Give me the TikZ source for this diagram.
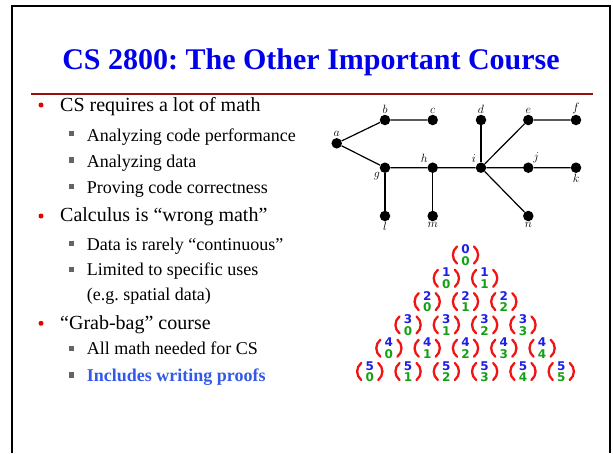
\documentclass[tikz,border=0pt]{standalone}
\usepackage{fontspec}
\setmainfont{Liberation Serif}
\newfontfamily\digitfont{DejaVu Sans}
\frenchspacing

\definecolor{titleblue}{RGB}{0,0,235}
\definecolor{rulered}{RGB}{150,15,15}
\definecolor{proofblue}{RGB}{50,90,230}
\definecolor{bulletred}{RGB}{230,0,0}
\definecolor{squaregrey}{RGB}{100,100,100}
\definecolor{topblue}{RGB}{30,30,230}
\definecolor{botgreen}{RGB}{20,160,20}
\definecolor{parenred}{RGB}{240,20,20}

\tikzset{
  vertex/.style={circle, fill=black, inner sep=0pt, minimum size=10.5pt},
  edge/.style={line width=1.2pt},
  lbl/.style={font=\fontsize{12.5}{12.5}\selectfont, inner sep=1pt, label distance=0pt},
  item/.style={anchor=base west, inner sep=0pt, font=\fontsize{20}{20}\selectfont},
  subitem/.style={anchor=base west, inner sep=0pt, font=\fontsize{18}{18}\selectfont},
  reddot/.style={circle, fill=bulletred, inner sep=0pt, minimum size=5pt},
  greysq/.style={fill=squaregrey, inner sep=0pt, minimum size=5.5pt},
  binom/.style={align=center, inner sep=0pt,
    font=\digitfont\bfseries\fontsize{12}{11.5}\selectfont},
  paren/.style={parenred, line width=2.3pt, line cap=round}
}

\begin{document}
\begin{tikzpicture}[x=1pt, y=-1pt]
  \useasboundingbox (0,0) rectangle (613,453);

  % frame and heading
  \draw[line width=2.5pt] (12,453) -- (12,6) -- (610,6) -- (610,453);
  \node[anchor=base, inner sep=0pt, text=titleblue,
        font=\bfseries\fontsize{30}{30}\selectfont] (title) at (311,69)
        {CS 2800: The Other Important Course};
  \draw[rulered, line width=1.5pt] (31,94) -- (593,94);

  % bullet list
  \node[reddot] (b1) at (41,105) {};
  \node[item] (t1) at (60,111.7) {CS requires a lot of math};
  \node[greysq] (s1) at (71.7,133.3) {};
  \node[subitem] (u1) at (86.7,141.7) {Analyzing code performance};
  \node[greysq] (s2) at (71.7,160) {};
  \node[subitem] (u2) at (86.7,167.3) {Analyzing data};
  \node[greysq] (s3) at (71.7,186.7) {};
  \node[subitem] (u3) at (86.7,193.3) {Proving code correctness};

  \node[reddot] (b2) at (41,216) {};
  \node[item] (t2) at (60,221.7) {Calculus is “wrong math”};
  \node[greysq] (s4) at (71.7,243.3) {};
  \node[subitem] (u4) at (86.7,250) {Data is rarely “continuous”};
  \node[greysq] (s5) at (71.7,269.3) {};
  \node[subitem] (u5) at (86.7,275.7) {Limited to specific uses};
  \node[subitem] (u6) at (86.7,300.7) {(e.g. spatial data)};

  \node[reddot] (b3) at (41,323.3) {};
  \node[item] (t3) at (60,329.3) {“Grab-bag” course};
  \node[greysq] (s6) at (71.7,348.3) {};
  \node[subitem] (u7) at (86.7,354.3) {All math needed for CS};
  \node[greysq] (s7) at (71.7,375) {};
  \node[subitem, text=proofblue, font=\bfseries\fontsize{18}{18}\selectfont]
        (u8) at (86.7,381.7) {Includes writing proofs};

  % the tree
  \node[vertex, label={[lbl]above:$a$}] (a) at (336.7,143.3) {};
  \node[vertex, label={[lbl]above:$b$}] (b) at (385,120) {};
  \node[vertex, label={[lbl]above:$c$}] (c) at (432.7,120) {};
  \node[vertex, label={[lbl]above:$d$}] (d) at (481,120) {};
  \node[vertex, label={[lbl]above:$e$}] (e) at (528.3,120) {};
  \node[vertex, label={[lbl]above:$f$}] (f) at (576,120) {};
  \node[vertex, label={[lbl]below left:$g$}] (g) at (385,167.7) {};
  \node[vertex, label={[lbl]above left:$h$}] (h) at (432.7,167.7) {};
  \node[vertex, label={[lbl]above left:$i$}] (i) at (481,167.7) {};
  \node[vertex, label={[lbl]above right:$j$}] (j) at (528.3,167.7) {};
  \node[vertex, label={[lbl]below:$k$}] (k) at (576,167.7) {};
  \node[vertex, label={[lbl]below:$l$}] (l) at (385,216) {};
  \node[vertex, label={[lbl]below:$m$}] (m) at (432.7,216) {};
  \node[vertex, label={[lbl]below:$n$}] (n) at (528.3,216) {};

  \draw[edge] (a) -- (b) -- (c);
  \draw[edge] (a) -- (g) -- (h) -- (i) -- (j) -- (k);
  \draw[edge] (g) -- (l);
  \draw[edge] (h) -- (m);
  \draw[edge] (i) -- (d);
  \draw[edge] (i) -- (e) -- (f);
  \draw[edge] (i) -- (n);

  % Pascal's triangle of binomials
  \foreach \r in {0,...,5} {
    \foreach \c in {0,...,\r} {
      \pgfmathsetmacro{\cx}{465.5+38.3*(\c-\r/2)}
      \pgfmathsetmacro{\cy}{255+23.3*\r}
      \node[binom] (p\r\c) at (\cx,\cy)
        {\textcolor{topblue}{\r}\\\textcolor{botgreen}{\c}};
      \draw[paren] (\cx-8.5,\cy-8.5) .. controls (\cx-14,\cy-4) and (\cx-14,\cy+4) .. (\cx-8.5,\cy+8.5);
      \draw[paren] (\cx+8.5,\cy-8.5) .. controls (\cx+14,\cy-4) and (\cx+14,\cy+4) .. (\cx+8.5,\cy+8.5);
    }
  }
\end{tikzpicture}
\end{document}
